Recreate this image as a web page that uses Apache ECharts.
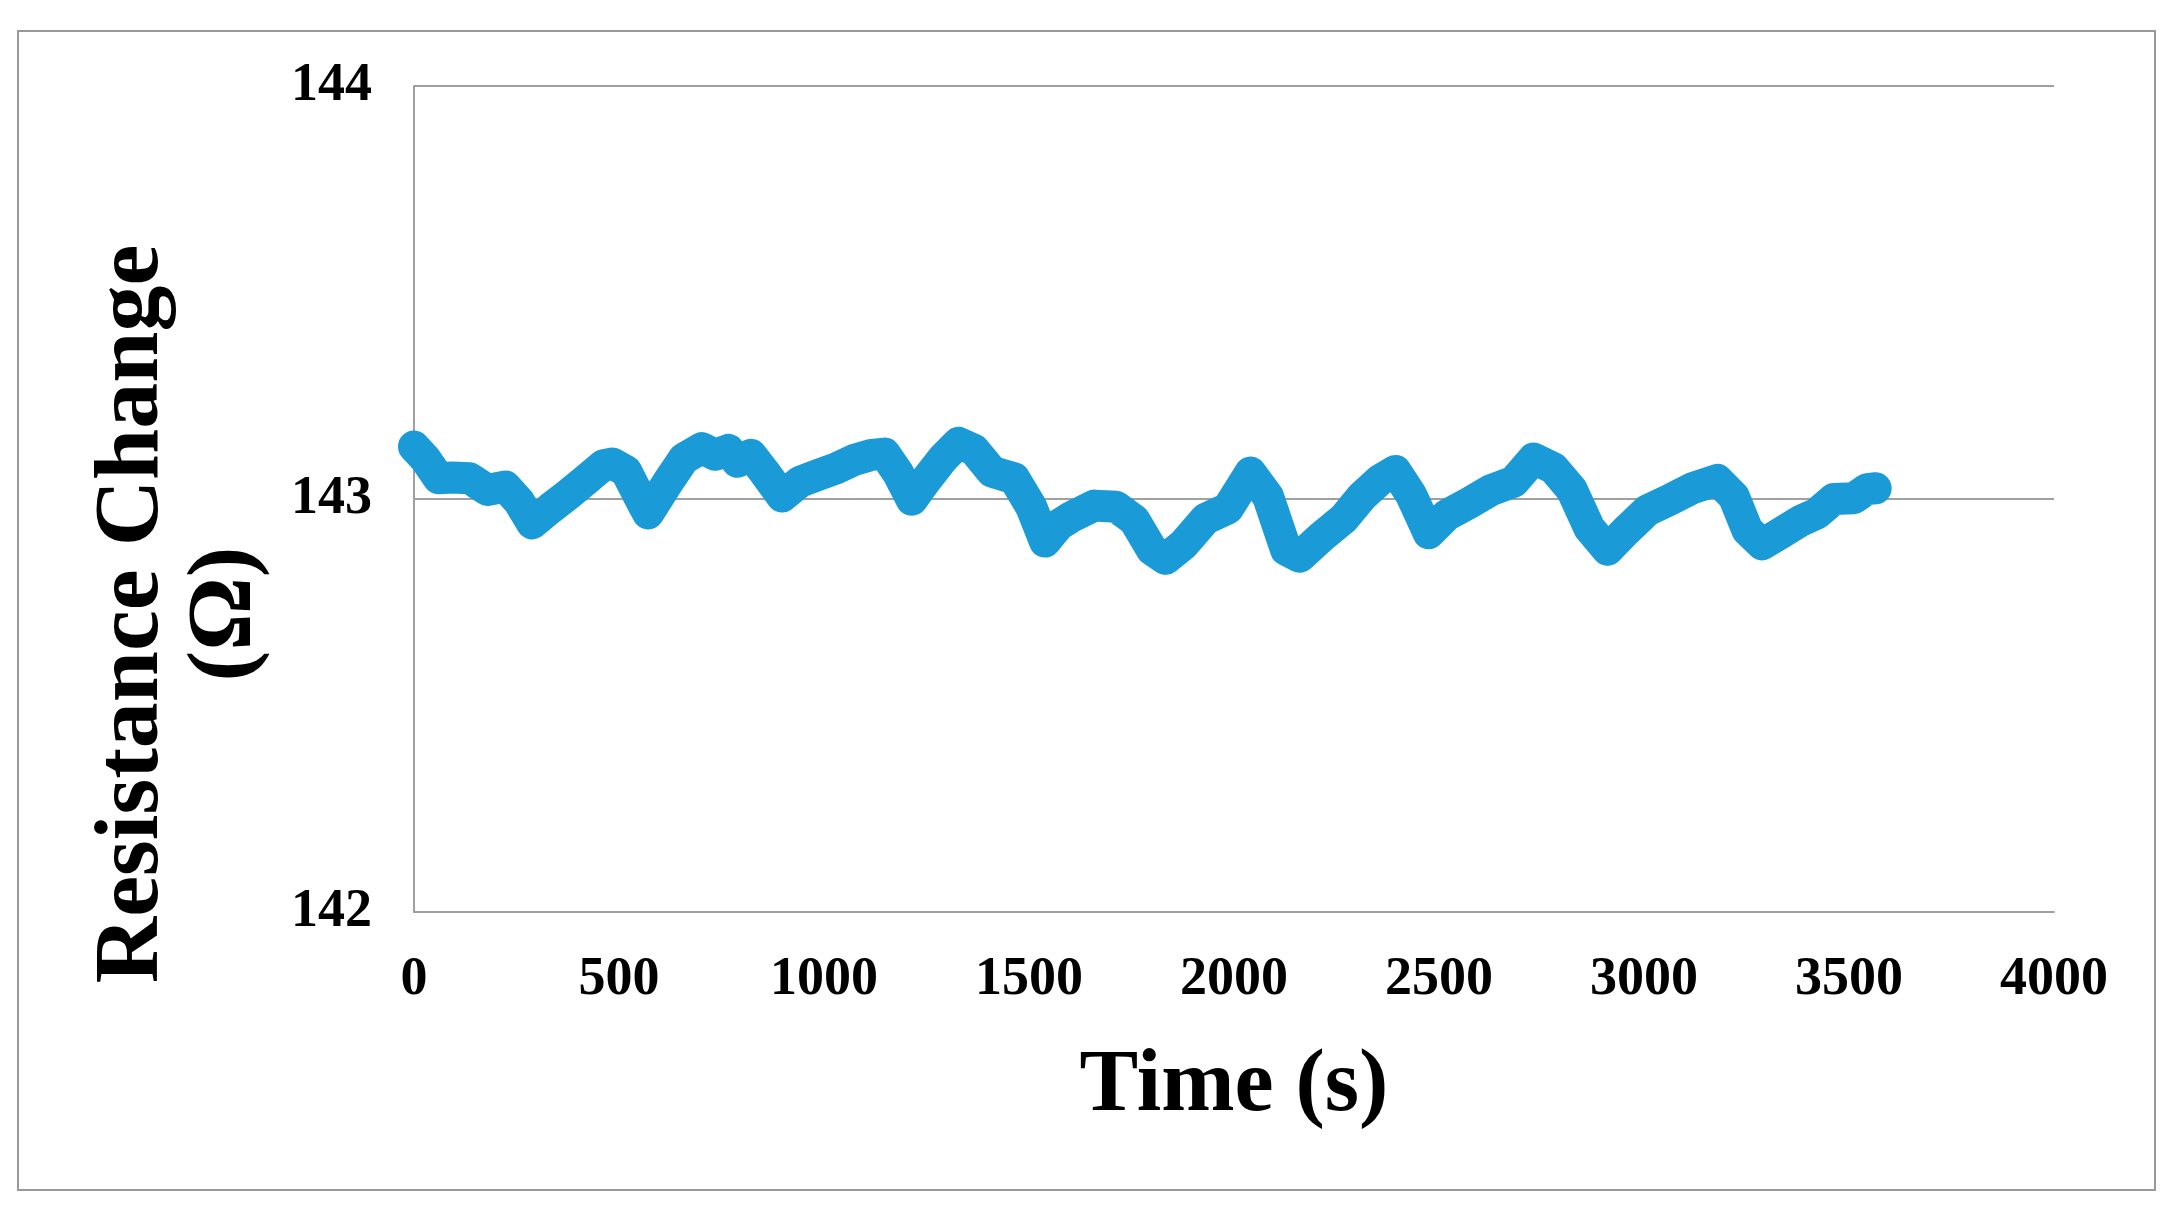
<!DOCTYPE html>
<html>
<head>
<meta charset="utf-8">
<script src="https://cdn.jsdelivr.net/npm/echarts@6/dist/echarts.min.js"></script>
<style>
html,body{margin:0;padding:0;background:#fff;}
#chart{width:2176px;height:1216px;}
</style>
</head>
<body>
<div id="chart"></div>
<script>
const times = [0, 27, 60, 92, 136, 179, 223, 256, 288, 332, 375, 419, 462, 484, 517, 560, 571, 615, 658, 702, 735, 767, 789, 822, 854, 898, 942, 985, 1029, 1072, 1116, 1148, 1181, 1214, 1246, 1290, 1328, 1366, 1410, 1464, 1506, 1539, 1572, 1604, 1659, 1713, 1757, 1800, 1833, 1876, 1931, 1985, 2040, 2083, 2127, 2160, 2214, 2268, 2312, 2356, 2394, 2432, 2475, 2519, 2573, 2628, 2682, 2731, 2780, 2824, 2867, 2911, 2954, 3009, 3063, 3118, 3179, 3219, 3252, 3288, 3333, 3382, 3422, 3463, 3512, 3544, 3565];
const resistance = [143.127, 143.098, 143.05, 143.052, 143.05, 143.022, 143.03, 142.994, 142.941, 142.977, 143.01, 143.046, 143.082, 143.086, 143.068, 142.985, 142.965, 143.034, 143.098, 143.123, 143.107, 143.119, 143.09, 143.107, 143.066, 143.006, 143.042, 143.058, 143.074, 143.094, 143.107, 143.11, 143.062, 142.998, 143.042, 143.098, 143.136, 143.119, 143.066, 143.05, 142.98, 142.897, 142.937, 142.957, 142.984, 142.981, 142.949, 142.877, 142.855, 142.889, 142.952, 142.977, 143.064, 143.006, 142.877, 142.86, 142.909, 142.953, 143.006, 143.046, 143.068, 143.01, 142.917, 142.961, 142.99, 143.022, 143.042, 143.098, 143.074, 143.022, 142.929, 142.877, 142.921, 142.973, 142.998, 143.026, 143.046, 143.006, 142.925, 142.89, 142.917, 142.947, 142.965, 143.0, 143.002, 143.024, 143.026];
const xTicks = {min: 0, max: 4000, interval: 500};
const yTicks = {min: 142, max: 144, interval: 1};
const xTitle = 'Time (s)';
const yTitle = 'Resistance Change\n(Ω)';

const data = times.map((t, i) => [t, resistance[i]]);
const chart = echarts.init(document.getElementById('chart'));
const font = 'Liberation Serif, Times New Roman, serif';
chart.setOption({
  backgroundColor: '#fff',
  animation: false,
  grid: {left: 414, right: 122, top: 86, bottom: 304},
  xAxis: {
    type: 'value', min: xTicks.min, max: xTicks.max, interval: xTicks.interval,
    axisLine: {show: true, lineStyle: {color: '#a0a0a0', width: 2}},
    axisTick: {show: false},
    splitLine: {show: false},
    axisLabel: {color: '#000', fontFamily: font, fontWeight: 'bold', fontSize: 54, margin: 41, formatter: v => String(v)}
  },
  yAxis: {
    type: 'value', min: yTicks.min, max: yTicks.max, interval: yTicks.interval,
    axisLine: {show: true, lineStyle: {color: '#a0a0a0', width: 2}},
    axisTick: {show: false},
    splitLine: {show: true, lineStyle: {color: '#a0a0a0', width: 2}},
    axisLabel: {color: '#000', fontFamily: font, fontWeight: 'bold', fontSize: 54, margin: 42, formatter: v => String(v)}
  },
  graphic: [
    {type: 'rect', shape: {x: 18, y: 31, width: 2137, height: 1159}, style: {fill: 'none', stroke: '#999', lineWidth: 2}, z: -1},
    {type: 'text', x: 1234, y: 1087, style: {text: xTitle, font: 'bold 88px ' + font, fill: '#000', textAlign: 'center', textVerticalAlign: 'middle'}},
    {type: 'text', x: 180, y: 614, rotation: Math.PI / 2, style: {text: yTitle, font: 'bold 92px ' + font, fill: '#000', textAlign: 'center', textVerticalAlign: 'middle', lineHeight: 93}}
  ],
  series: [{
    type: 'line', data: data, showSymbol: false,
    lineStyle: {color: '#1a9bd7', width: 32, join: 'round', cap: 'round'}
  }]
});
</script>
</body>
</html>
